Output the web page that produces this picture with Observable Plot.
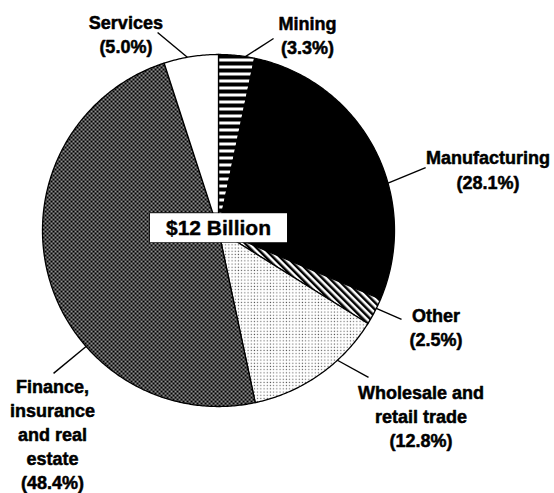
<!DOCTYPE html>
<html><head><meta charset="utf-8">
<script src="https://cdn.jsdelivr.net/npm/d3@7"></script>
<script src="https://cdn.jsdelivr.net/npm/@observablehq/plot@0.6"></script>
<style>
body{margin:0;background:#fff}
#chart svg{display:block;overflow:visible}
</style>
</head><body>
<svg width="0" height="0" style="position:absolute">
  <defs>
    <pattern id="pDense" width="4" height="4" patternUnits="userSpaceOnUse">
      <rect width="4" height="4" fill="#000"/>
      <rect x="0.3" y="0.3" width="1.5" height="1.5" fill="#fff"/>
      <rect x="2.3" y="2.3" width="1.5" height="1.5" fill="#fff"/>
    </pattern>
    <pattern id="pFine" width="3.2" height="3.2" patternUnits="userSpaceOnUse">
      <rect width="3.2" height="3.2" fill="#fff"/>
      <rect x="0.6" y="0.6" width="1.1" height="1.1" fill="#555"/>
    </pattern>
    <pattern id="pStripesH" width="8" height="7" patternUnits="userSpaceOnUse">
      <rect width="8" height="7" fill="#000"/>
      <rect y="2" width="8" height="3" fill="#fff"/>
    </pattern>
    <pattern id="pDiag" width="5" height="5" patternUnits="userSpaceOnUse" patternTransform="rotate(-45)">
      <rect width="5" height="5" fill="#fff"/>
      <rect width="2.5" height="5" fill="#000"/>
    </pattern>
  </defs>
</svg>
<div id="chart"></div>
<script>
// ---- data ----
const categories = ["Mining", "Manufacturing", "Other", "Wholesale and\nretail trade", "Finance,\ninsurance\nand real\nestate", "Services"];
const shares = [3.3, 28.1, 2.5, 12.8, 48.4, 5.0];
const fills = ["url(#pStripesH)", "#000", "url(#pDiag)", "url(#pFine)", "url(#pDense)", "#fff"];
const totalLabel = "$12 Billion";

// ---- label layout (polar: degrees clockwise from top, radius in pie radii) ----
const anchorAngle = [8.8, 74.4, 116.3, 137.5, 228.8, 349.8];
const elbowAngle = [16.0, 73.1, 115.9, 134.4, 229.1, 342.9];
const elbowRadius = [1.135, 1.23, 1.156, 1.193, 1.24, 1.177];
const textAngle = [24.4, 77.1, 113.8, 132.4, 219.3, 334.8];
const textRadius = [1.223, 1.571, 1.351, 1.558, 1.490, 1.236];

const polar = (deg, r) => ({x: r * Math.sin(deg * Math.PI / 180), y: r * Math.cos(deg * Math.PI / 180)});

const arcs = d3.pie().sort(null).value(d => d)(shares);
const slicePts = [];
arcs.forEach((a, i) => {
  slicePts.push({name: categories[i], fill: fills[i], x: 0, y: 0});
  const n = Math.max(4, Math.ceil((a.endAngle - a.startAngle) / 0.01));
  for (let k = 0; k <= n; k++) {
    const t = a.startAngle + (a.endAngle - a.startAngle) * k / n;
    slicePts.push({name: categories[i], fill: fills[i], x: Math.sin(t), y: Math.cos(t)});
  }
  slicePts.push({name: categories[i], fill: fills[i], x: 0, y: 0});
});

const leaders = categories.map((c, i) => {
  const p1 = polar(anchorAngle[i], 1), p2 = polar(elbowAngle[i], elbowRadius[i]);
  return {x1: p1.x, y1: p1.y, x2: p2.x, y2: p2.y};
});
const labels = categories.map((c, i) => {
  const p = polar(textAngle[i], textRadius[i]);
  return {x: p.x, y: p.y, text: `${c}\n(${shares[i].toFixed(1)}%)`};
});

const FONT = "'Liberation Sans', Arial, Helvetica, sans-serif";
const chart = Plot.plot({
  width: 554,
  height: 493,
  margin: 0,
  style: {fontFamily: FONT, background: "#fff"},
  x: {domain: [-1, 1], range: [42, 394], axis: null},
  y: {domain: [-1, 1], range: [406, 54], axis: null},
  color: {type: "identity"},
  marks: [
    Plot.line(slicePts, {x: "x", y: "y", z: "name", fill: "fill", stroke: "#000", strokeWidth: 1.3, curve: "linear"}),
    Plot.link(leaders, {x1: "x1", y1: "y1", x2: "x2", y2: "y2", stroke: "#000", strokeWidth: 1.4}),
    Plot.text(labels, {x: "x", y: "y", text: "text", fontSize: 18, fontWeight: "bold", fill: "#000", stroke: "#000", strokeWidth: 0.5, lineHeight: 1.34, lineAnchor: "middle", textAnchor: "middle"}),
    Plot.text([{x: 0, y: 0, text: totalLabel}], {x: "x", y: "y", text: "text", fontSize: 21, fontWeight: "bold", fill: "#000", stroke: "#000", strokeWidth: 0.4, dy: -2})
  ]
});
document.getElementById("chart").appendChild(chart);

// white framed box behind the total label, sized from the rendered text
const totalText = Array.from(chart.querySelectorAll("text")).find(t => t.textContent === totalLabel);
if (totalText) {
  const bb = totalText.getBBox();
  const padX = 16, padY = 3;
  const rect = document.createElementNS("http://www.w3.org/2000/svg", "rect");
  rect.setAttribute("x", bb.x - padX);
  rect.setAttribute("y", bb.y - padY);
  rect.setAttribute("width", bb.width + 2 * padX);
  rect.setAttribute("height", bb.height + 2 * padY);
  rect.setAttribute("fill", "#fff");
  rect.setAttribute("stroke", "#000");
  rect.setAttribute("stroke-width", "1.3");
  const tf = totalText.getAttribute("transform");
  if (tf) rect.setAttribute("transform", tf);
  totalText.parentNode.insertBefore(rect, totalText);
}
</script>
</body></html>
